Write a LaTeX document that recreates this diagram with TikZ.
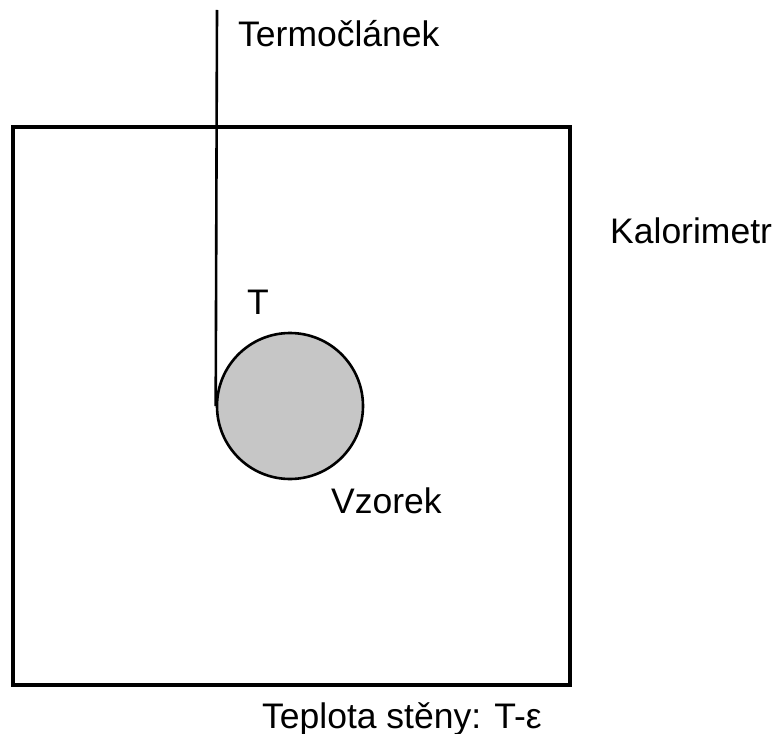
\documentclass[tikz,border=0pt]{standalone}
\usepackage{fontspec}
\setmainfont{Liberation Sans}
\begin{document}
\begin{tikzpicture}[x=1pt,y=-1pt,
  lbl/.style={anchor=base west,inner sep=0pt,font=\fontsize{35.5}{40}\selectfont},
  wall/.style={draw=black,line width=3.5pt,minimum width=557pt,minimum height=558pt,inner sep=0pt},
  sample/.style={circle,draw=black,line width=2.6pt,fill=gray!45,minimum size=146pt,inner sep=0pt},
  wire/.style={draw=black,line width=2.6pt}]
\useasboundingbox (0,0) rectangle (781,733);
\node[wall] (kal) at (291.5,406) {};
\node[sample] (vz) at (290,406) {};
\coordinate (tc) at (217,10);
\draw[wire] (tc) -- (vz.west);
\node[lbl] (ttc) at (238,47) {Termočlánek};
\node[lbl] (tkal) at (610,243) {Kalorimetr};
\node[lbl] (tT) at (247,314) {T};
\node[lbl] (tvz) at (331,513) {Vzorek};
\node[lbl] (tst) at (262,728) {Teplota stěny: T-ε};
\end{tikzpicture}
\end{document}
